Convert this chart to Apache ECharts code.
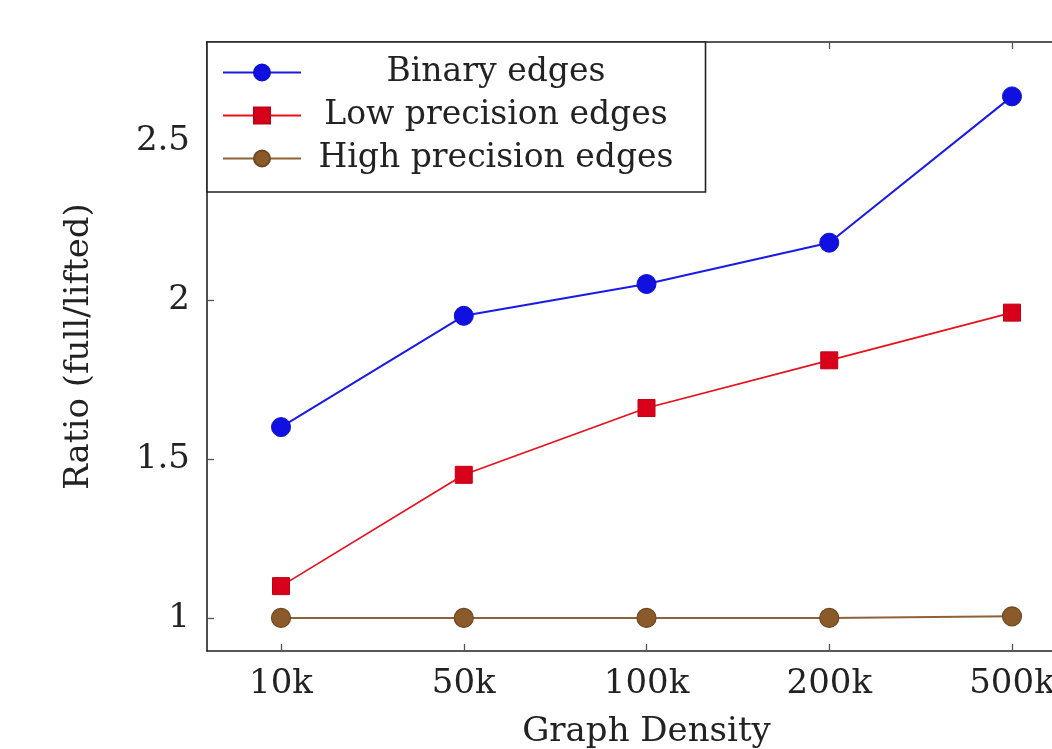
<!DOCTYPE html>
<html><head><meta charset="utf-8">
<script src="https://cdn.jsdelivr.net/npm/echarts@6/dist/echarts.min.js"></script>
<style>html,body{margin:0;padding:0;background:#fff}#c{width:1052px;height:749px}</style>
</head><body><div id="c"></div>
<script>
const categories = ['10k', '50k', '100k', '200k', '500k'];
const binaryEdges = [1.60, 1.95, 2.05, 2.18, 2.64];
const lowPrecision = [1.10, 1.45, 1.66, 1.81, 1.96];
const highPrecision = [1.00, 1.00, 1.00, 1.00, 1.005];
const yTicks = [1, 1.5, 2, 2.5];
const xTicks = [0, 1, 2, 3, 4];
const seriesNames = ['Binary edges', 'Low precision edges', 'High precision edges'];

const FONT = 'DejaVu Serif';
const toPairs = arr => arr.map((v, i) => [i, v]);
const chart = echarts.init(document.getElementById('c'), null, {renderer: 'canvas'});
const tickStyle = {show: true, inside: true, length: 7, lineStyle: {color: '#555', width: 1.3}};
const xAxisBase = {
  type: 'value', min: -0.405, max: 4.405,
  splitLine: {show: false},
  axisLine: {show: true, onZero: false, lineStyle: {color: '#222', width: 1.6}}
};
chart.setOption({
  animation: false,
  backgroundColor: '#fff',
  grid: {left: 207, top: 42, width: 879, height: 609, outerBoundsMode: 'none', containLabel: false},
  legend: {
    left: 207, top: 42,
    orient: 'vertical',
    data: seriesNames,
    backgroundColor: '#fff',
    borderColor: '#222', borderWidth: 1.6,
    padding: [14, 32, 17, 15],
    itemWidth: 78, itemHeight: 20, itemGap: 10,
    formatter: n => '{c|' + n + '}',
    textStyle: {
      fontFamily: FONT, fontSize: 33, color: '#222',
      rich: {c: {width: 380, align: 'center', fontFamily: FONT, fontSize: 33, color: '#222'}}
    }
  },
  xAxis: [
    Object.assign({}, xAxisBase, {
      position: 'bottom',
      name: 'Graph Density', nameLocation: 'middle', nameGap: 64,
      nameTextStyle: {fontFamily: FONT, fontSize: 34, color: '#222'},
      axisTick: Object.assign({customValues: xTicks}, tickStyle),
      axisLabel: {
        customValues: xTicks, margin: 16,
        fontFamily: FONT, fontSize: 34, color: '#222',
        formatter: v => categories[Math.round(v)]
      }
    }),
    Object.assign({}, xAxisBase, {
      position: 'top',
      axisTick: Object.assign({customValues: xTicks}, tickStyle),
      axisLabel: {show: false}
    })
  ],
  yAxis: {
    type: 'value', min: 0.896, max: 2.811,
    splitLine: {show: false},
    name: 'Ratio (full/lifted)', nameLocation: 'middle', nameGap: 111,
    nameTextStyle: {fontFamily: FONT, fontSize: 34, color: '#222'},
    axisLine: {show: true, onZero: false, lineStyle: {color: '#222', width: 1.6}},
    axisTick: Object.assign({customValues: yTicks}, tickStyle),
    axisLabel: {
      customValues: yTicks, margin: 17,
      fontFamily: FONT, fontSize: 34, color: '#222',
      formatter: v => String(v)
    }
  },
  series: [
    {
      name: seriesNames[0], type: 'line', data: toPairs(binaryEdges),
      symbol: 'circle', symbolSize: 19,
      lineStyle: {color: '#1a1ae6', width: 2},
      itemStyle: {color: '#1010e0', borderColor: '#1010d0', borderWidth: 1}
    },
    {
      name: seriesNames[1], type: 'line', data: toPairs(lowPrecision),
      symbol: 'rect', symbolSize: 17,
      lineStyle: {color: '#e8101c', width: 1.7},
      itemStyle: {color: '#d8001a', borderColor: '#c00018', borderWidth: 1}
    },
    {
      name: seriesNames[2], type: 'line', data: toPairs(highPrecision),
      symbol: 'circle', symbolSize: 19,
      lineStyle: {color: '#8e6238', width: 2},
      itemStyle: {color: '#8a5a2a', borderColor: '#6e4820', borderWidth: 1.2}
    }
  ]
});
</script></body></html>
